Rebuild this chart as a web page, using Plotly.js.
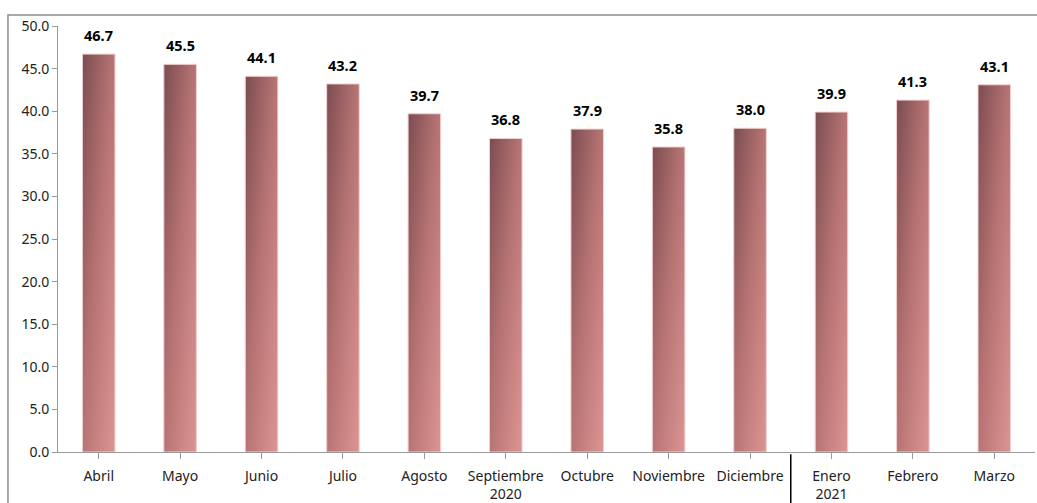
<!DOCTYPE html>
<html>
<head>
<meta charset="utf-8">
<script src="https://cdn.plot.ly/plotly-3.0.1.min.js"></script>
<style>
html,body{margin:0;padding:0;background:#fff;}
#chart{width:1037px;height:503px;}
</style>
</head>
<body>
<div id="chart"></div>
<script>
const categories = ["Abril","Mayo","Junio","Julio","Agosto","Septiembre","Octubre","Noviembre","Diciembre","Enero","Febrero","Marzo"];
const tickLabels = ["Abril","Mayo","Junio","Julio","Agosto","Septiembre<br>2020","Octubre","Noviembre","Diciembre","Enero<br>2021","Febrero","Marzo"];
const values = [46.7,45.5,44.1,43.2,39.7,36.8,37.9,35.8,38.0,39.9,41.3,43.1];
const yearBreakAfter = "Diciembre";

const FONT = "Noto Sans, Liberation Sans, sans-serif";
const breakIdx = categories.indexOf(yearBreakAfter) + 0.5;

const trace = {
  type: "bar",
  x: categories.map((c, i) => i),
  y: values,
  marker: {color: "#b87474", line: {color: "#f3d0d0", width: 1}},
  hoverinfo: "none"
};

const annotations = values.map((v, i) => ({
  x: i, y: v, xref: "x", yref: "y",
  text: v.toFixed(1),
  showarrow: false, yanchor: "bottom", yshift: 7,
  font: {family: FONT, size: 14.5, color: "#000", weight: "bold"}
}));

const layout = {
  width: 1037, height: 503,
  margin: {l: 58, r: 2, t: 26, b: 51},
  paper_bgcolor: "#fff", plot_bgcolor: "#fff",
  bargap: 0.6,
  showlegend: false,
  font: {family: FONT, size: 14, color: "#222"},
  xaxis: {
    tickmode: "array",
    tickvals: categories.map((c, i) => i),
    ticktext: tickLabels,
    range: [-0.5, categories.length - 0.5],
    showgrid: false, zeroline: false,
    showline: true, linecolor: "#9a9a9a", linewidth: 1,
    ticks: "outside", ticklen: 6, tickcolor: "#9a9a9a",
    tickson: "boundaries",
    ticklabelstandoff: 5,
    tickfont: {family: FONT, size: 14, color: "#222"},
    fixedrange: true
  },
  yaxis: {
    range: [0, 50], dtick: 5, tickformat: ".1f",
    showgrid: false, zeroline: false,
    showline: true, linecolor: "#9a9a9a", linewidth: 1,
    ticks: "outside", ticklen: 5, tickcolor: "#9a9a9a",
    tickfont: {family: FONT, size: 14, color: "#222"},
    fixedrange: true
  },
  annotations: annotations,
  shapes: [
    {type: "rect", xref: "paper", yref: "paper",
     x0: -0.0512, x1: 1.01, y0: -0.2, y1: 1.026,
     line: {color: "#8c8c8c", width: 1.5}, fillcolor: "rgba(0,0,0,0)", layer: "below"},
    {type: "line", xref: "x", yref: "paper",
     x0: breakIdx, x1: breakIdx, y0: -0.005, y1: -0.13,
     line: {color: "#000", width: 1.5}}
  ]
};

Plotly.newPlot("chart", [trace], layout, {staticPlot: true, displayModeBar: false}).then(gd => {
  const svg = gd.querySelector("svg.main-svg");
  const ns = "http://www.w3.org/2000/svg";
  let defs = svg.querySelector("defs");
  if (!defs) { defs = document.createElementNS(ns, "defs"); svg.insertBefore(defs, svg.firstChild); }
  const g = document.createElementNS(ns, "linearGradient");
  g.setAttribute("id", "barGrad");
  g.setAttribute("x1", "0"); g.setAttribute("y1", "0");
  g.setAttribute("x2", "1"); g.setAttribute("y2", "1");
  [["0", "#7b4d51"], ["0.45", "#b47171"], ["1", "#dc9593"]].forEach(([o, c]) => {
    const s = document.createElementNS(ns, "stop");
    s.setAttribute("offset", o); s.setAttribute("stop-color", c);
    g.appendChild(s);
  });
  defs.appendChild(g);
  gd.querySelectorAll(".barlayer .point path").forEach(p => { p.style.fill = "url(#barGrad)"; });
});
</script>
</body>
</html>
